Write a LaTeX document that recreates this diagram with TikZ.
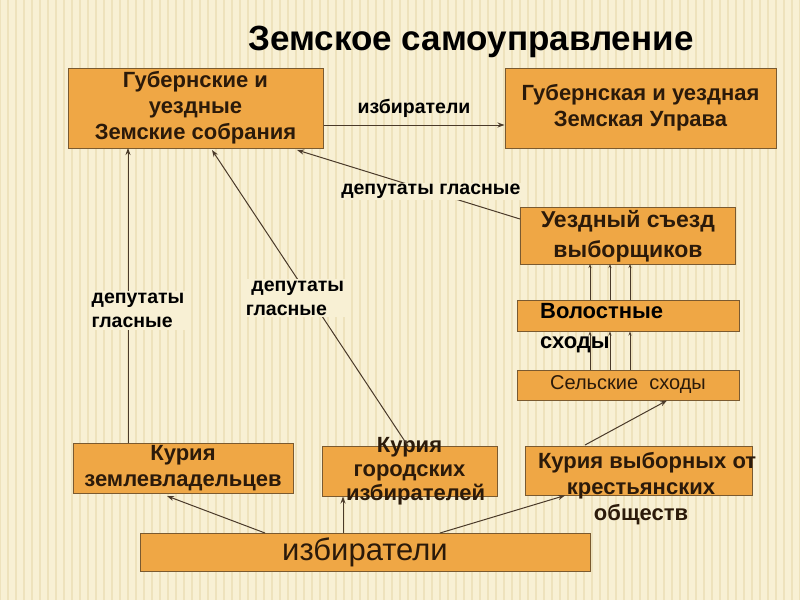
\documentclass[tikz,border=0pt]{standalone}
\usepackage{fontspec}
\setmainfont{Liberation Sans}
\usetikzlibrary{arrows.meta}
\begin{document}
\begin{tikzpicture}[x=1pt,y=-1pt,
  box/.style={draw=boxline,line width=1pt,fill=boxfill,inner sep=0pt,text=boxtext,font=\bfseries\fontsize{22}{26}\selectfont,align=center},
  lbl/.style={font=\bfseries\fontsize{19.5}{24}\selectfont,align=left,text=black},
  arr/.style={-{Stealth[length=7pt,width=5pt]},draw=linec,line width=1pt}]
\definecolor{bg}{HTML}{F8F0D4}
\definecolor{stripe}{HTML}{EEE2BC}
\definecolor{boxfill}{HTML}{EFA745}
\definecolor{boxline}{HTML}{7A5A30}
\definecolor{boxtext}{HTML}{2B1A0A}
\definecolor{linec}{HTML}{4A3A2A}
\useasboundingbox (0,0) rectangle (800,600);
\fill[bg] (0,0) rectangle (800,600);
\foreach \i in {0,8,...,800} \draw[stripe,line width=2pt] (\i,0) -- (\i,600);
\node[font=\bfseries\fontsize{35}{40}\selectfont,text=black] (title) at (471,42) {Земское самоуправление};
% boxes
\node[box,minimum width=255pt,minimum height=80pt] (A) at (195.5,108) {Губернские и\\уездные\\Земские собрания};
\node[box,minimum width=271pt,minimum height=80pt] (B) at (640.5,108) {Губернская и уездная\\Земская Управа};
\node[box,minimum width=215pt,minimum height=57pt,font=\bfseries\fontsize{23}{30}\selectfont] (C) at (628,236) {Уездный съезд\\выборщиков};
\node[box,minimum width=222pt,minimum height=31pt] (D) at (628,315.5) {};
\node[anchor=north west,font=\bfseries\fontsize{22}{30}\selectfont,text=black,align=left,inner sep=0pt] (Dt) at (540,303) {Волостные\\сходы};
\node[box,minimum width=222pt,minimum height=30pt,font=\fontsize{20}{24}\selectfont] (E) at (628,385) {Сельские\ \ сходы};
\node[box,minimum width=220pt,minimum height=50pt] (F) at (183,468) {Курия\\землевладельцев};
\node[box,minimum width=175pt,minimum height=50pt] (G) at (409.5,471) {};
\node[font=\bfseries\fontsize{22}{24}\selectfont,text=boxtext,align=center] (Gt) at (409.5,471) {Курия\\городских\\\ \ избирателей};
\node[box,minimum width=227pt,minimum height=49pt] (H) at (638.5,470.5) {};
\node[font=\bfseries\fontsize{22}{26}\selectfont,text=boxtext,align=center,anchor=north] (Ht) at (641,449) {\ \ Курия выборных от\\крестьянских\\обществ};
\node[box,minimum width=450pt,minimum height=38pt,font=\fontsize{31}{34}\selectfont] (I) at (365,552) {избиратели};
% connectors
\draw[arr] (A.east |- 0,125) -- node[above=4pt,lbl] (l1) {избиратели} (B.west |- 0,125);
\draw[arr] (C.north west) ++(0,12) coordinate (c1) -- node[pos=0.4,lbl,fill=bg,inner sep=1pt] (l2) {депутаты гласные} (297,150);
\draw[arr] (128,443) -- node[pos=0.45,lbl,fill=bg,inner sep=2pt,xshift=10pt] (l3) {депутаты\\гласные} (128,148);
\draw[arr] (408,446) -- node[pos=0.5,lbl,fill=bg,inner sep=2pt,xshift=-15pt] (l4) {\ депутаты\\гласные} (212,150);
\foreach \x in {590,610,630}{
  \draw[arr,-{Stealth[length=4pt,width=3pt]}] (\x,300) -- (\x,264);
  \draw[arr,-{Stealth[length=4pt,width=3pt]}] (\x,370) -- (\x,331.5);
}
\draw[arr] (585,445) -- (667,400.5);
\draw[arr] (265,533) -- (167,496);
\draw[arr] (343,533) -- (343,496.5);
\draw[arr] (440,533) -- (565,495.5);
\end{tikzpicture}
\end{document}
